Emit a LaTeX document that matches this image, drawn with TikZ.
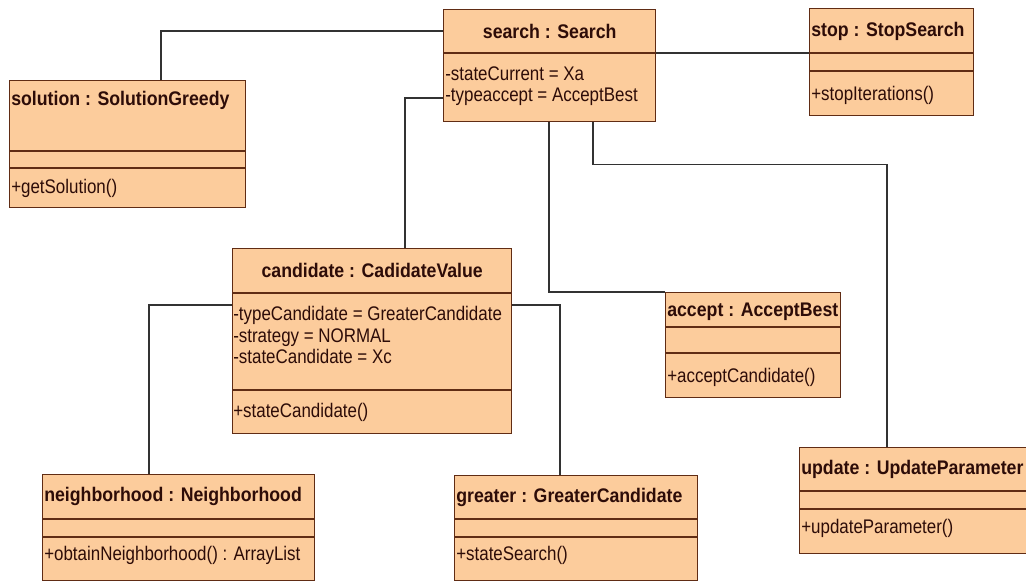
\documentclass[tikz,border=0pt]{standalone}
\usepackage{fontspec}
\setmainfont{Liberation Sans}[FakeStretch=0.86,BoldFeatures={FakeStretch=0.90}]
\usetikzlibrary{calc}
\definecolor{objfill}{RGB}{252,204,156}
\definecolor{objline}{RGB}{96,44,20}
\definecolor{objtext}{RGB}{45,12,8}
\definecolor{linkcol}{RGB}{50,50,50}
\newcommand\px{0.025cm}
\newcommand\umlsize{\fontsize{14pt}{15.3pt}\selectfont}
% object box: name, x, y, width, height, divider offsets
\newcommand\objbox[6]{%
  \node[obj, minimum width={#4*\px}, minimum height={#5*\px}] (#1) at (#2,#3) {};
  \foreach \d in {#6} \draw[divider] ($(#1.north west)+(0,\d)$) -- ($(#1.north east)+(0,\d)$);}
\begin{document}
\begin{tikzpicture}[x=\px, y=-\px, font=\umlsize,
  obj/.style={draw=objline, fill=objfill, line width=1pt, anchor=north west, inner sep=0pt},
  divider/.style={draw=objline, line width=1pt},
  txt/.style={anchor=west, inner sep=0pt, text=objtext, align=left},
  title/.style={txt, font=\umlsize\bfseries},
  link/.style={draw=linkcol, line width=0.8pt}]
\clip (0,0) rectangle (1026,582);
% objects
\objbox{search}{443}{9}{212}{112}{44}
\objbox{stop}{809}{8}{164}{107}{45,63}
\objbox{solution}{9}{80}{236}{127}{71,88}
\objbox{candidate}{232}{248}{279}{185}{45,142}
\objbox{accept}{665}{292}{175}{105}{35,61}
\objbox{neighborhood}{42}{474}{272}{106}{45,63}
\objbox{greater}{454}{475}{243}{105}{44,62}
\objbox{update}{799}{447}{240}{106}{44,62}
% texts
\node[title, anchor=center] (searchT) at ($(search.north)+(0,22)$) {search : Search};
\node[txt] (searchA) at ($(search.north west)+(2,77)$) {-stateCurrent = Xa\\-typeaccept = AcceptBest};
\node[title] (stopT) at ($(stop.north west)+(2,23)$) {stop : StopSearch};
\node[txt] (stopM) at ($(stop.north west)+(2,87)$) {+stopIterations()};
\node[title] (solutionT) at ($(solution.north west)+(2,20)$) {solution : SolutionGreedy};
\node[txt] (solutionM) at ($(solution.north west)+(2,108)$) {+getSolution()};
\node[title, anchor=center] (candidateT) at ($(candidate.north)+(0,22)$) {candidate : CadidateValue};
\node[txt] (candidateA) at ($(candidate.north west)+(1,87)$) {-typeCandidate = GreaterCandidate\\-strategy = NORMAL\\-stateCandidate = Xc};
\node[txt] (candidateM) at ($(candidate.north west)+(1,164)$) {+stateCandidate()};
\node[title] (acceptT) at ($(accept.north west)+(2,20)$) {accept : AcceptBest};
\node[txt] (acceptM) at ($(accept.north west)+(2,85)$) {+acceptCandidate()};
\node[title] (neighborhoodT) at ($(neighborhood.north west)+(2,22)$) {neighborhood : Neighborhood};
\node[txt] (neighborhoodM) at ($(neighborhood.north west)+(2,81)$) {+obtainNeighborhood() : ArrayList};
\node[title] (greaterT) at ($(greater.north west)+(2,22)$) {greater : GreaterCandidate};
\node[txt] (greaterM) at ($(greater.north west)+(2,80)$) {+stateSearch()};
\node[title] (updateT) at ($(update.north west)+(2,22)$) {update : UpdateParameter};
\node[txt] (updateM) at ($(update.north west)+(2,81)$) {+updateParameter()};
% links
\draw[link] ($(search.north west)+(0,22)$) -| ($(solution.north west)+(152,0)$);
\draw[link] ($(search.north east)+(0,44)$) -- ($(stop.north west)+(0,45)$);
\draw[link] ($(search.north west)+(0,89)$) -| ($(candidate.north west)+(173,0)$);
\draw[link] ($(search.south west)+(106,0)$) |- (accept.north west);
\draw[link] ($(search.south west)+(150,0)$) -- ++(0,42) -| ($(update.north west)+(88,0)$);
\draw[link] ($(candidate.north west)+(0,57)$) -| ($(neighborhood.north west)+(107,0)$);
\draw[link] ($(candidate.north east)+(0,57)$) -| ($(greater.north west)+(106,0)$);
\end{tikzpicture}
\end{document}
